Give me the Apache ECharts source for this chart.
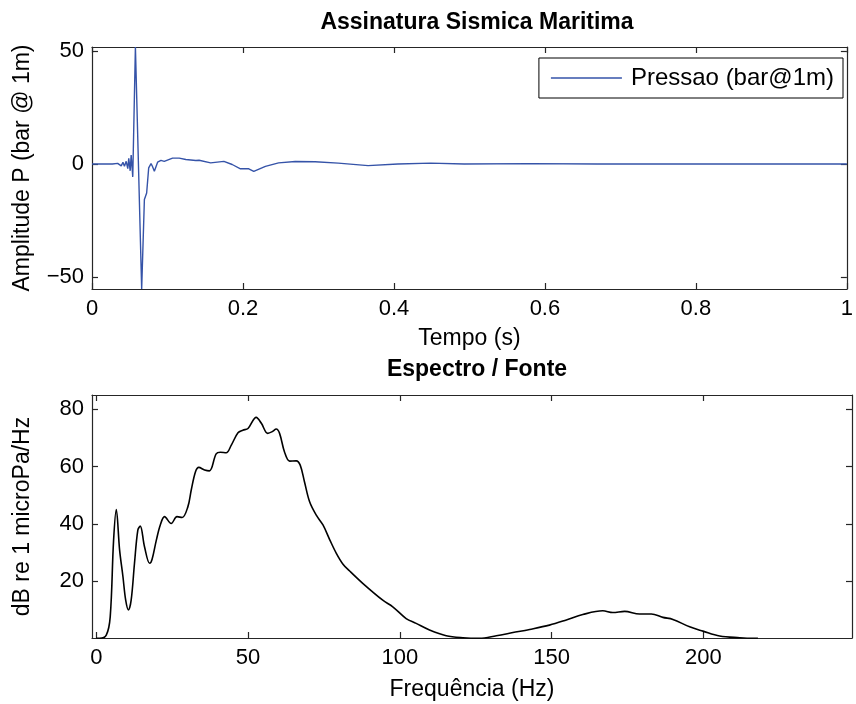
<!DOCTYPE html>
<html>
<head>
<meta charset="utf-8">
<script src="https://cdn.jsdelivr.net/npm/echarts@6/dist/echarts.min.js"></script>
<style>
html,body{margin:0;padding:0;background:#fff;}
#chart{width:856px;height:704px;}
</style>
</head>
<body>
<div id="chart"></div>
<script>
// ---- Data ----
const titleTop = 'Assinatura Sismica Maritima';
const titleBottom = 'Espectro / Fonte';
const seriesTopName = 'Pressao (bar@1m)';

// time (s) and pressure (bar@1m)
const tempo = [0, 0.027, 0.034, 0.0387, 0.041, 0.043, 0.0453, 0.0474, 0.0487, 0.0506, 0.0519, 0.054,
  0.0575, 0.0658, 0.0694, 0.0724, 0.0751, 0.0782, 0.080, 0.0826, 0.0869, 0.0914, 0.0957, 0.1067,
  0.1155, 0.1243, 0.1375, 0.1418, 0.1572, 0.1747, 0.1857, 0.1967, 0.2077, 0.2143, 0.2297, 0.2472,
  0.2692, 0.2955, 0.3262, 0.3657, 0.4052, 0.4486, 0.493, 0.58, 0.669, 1.0];
const pressao = [0, 0, 0.3, -0.8, 0.8, -1.0, 1.2, -2.0, 2.5, -3.0, 4.0, -5.7,
  51.8, -55.3, -15.7, -12.8, -1.7, 0.2, -1.0, -3.2, 0.8, 1.6, 1.2, 2.6,
  2.6, 2.0, 1.6, 1.7, 0.5, 1.2, -0.2, -2.1, -2.1, -3.2, -1.0, 0.5,
  1.1, 1.0, 0.4, -0.7, 0.0, 0.4, 0, 0.2, 0, 0];

// frequency (Hz) and level (dB re 1 microPa/Hz)
const freq = [0, 1.1, 3.3, 4.6, 5.7, 6.6, 7.7, 8.8, 9.7, 10.6, 11.5, 12.6, 13.7, 14.5, 15.9, 17.6,
  18.4, 19.8, 21.1, 22.5, 24.7, 26.6, 28.3, 30.2, 31.3, 32.7, 33.8, 35.7, 37.3, 39.5, 40.9, 42.8,
  44.5, 46.7, 48.3, 50, 52.7, 54.4, 56.5, 58, 59.3, 60.4, 62, 63.7, 65.9, 67.2, 68.6, 70.3, 72.5,
  74.7, 76.9, 79.1, 81.3, 83.5, 87.8, 94.4, 97.7, 102.1, 105.4, 109.8, 115.3, 120.8, 126.3, 131.8,
  137.3, 142.8, 149.3, 154.9, 160.3, 166.9, 170.2, 174.1, 179, 182.9, 186.7, 190, 195.5, 199.9,
  205.4, 212, 216.3, 218];
const nivel = [0, 0, 1.1, 7.5, 34, 45, 30.8, 21.5, 13.3, 9.9, 13.3, 26.2, 37.8, 39.2, 32, 26.2,
  27.6, 34.3, 39.6, 42.5, 40.1, 42.5, 42.2, 46, 51.8, 58.2, 59.7, 58.8, 58.5, 64.4, 65, 64.8,
  67.5, 71.8, 72.7, 73.3, 77.2, 75.1, 71.6, 72.2, 73.1, 71.6, 65.2, 61.9, 62, 60.5, 54.7, 47.7, 43,
  39.6, 34.5, 29.7, 25.9, 23.5, 19.2, 13.3, 11, 6.9, 5.2, 2.9, 0.9, 0.2, 0, 0.9,
  2.0, 3.1, 4.6, 6.4, 8.3, 9.6, 9.0, 9.4, 8.5, 8.5, 7.3, 6.6, 4.0, 2.5,
  0.8, 0.2, 0, 0];

const tempoTicks = [0, 0.2, 0.4, 0.6, 0.8, 1];
const pressaoTicks = [-50, 0, 50];
const freqTicks = [0, 50, 100, 150, 200];
const nivelTicks = [20, 40, 60, 80];

// ---- Chart ----
const FONT = 'Liberation Sans';
const FS = 22;
const NFS = 23;
const AX = '#262626';
const fmt = v => String(v).replace('-', '\u2212');

const pairsTop = tempo.map((t, i) => [t, pressao[i]]);
const pairsBot = freq.map((f, i) => [f, nivel[i]]);

function mainX(grid, min, max, ticks, name, gap) {
  return {
    type: 'value', gridIndex: grid, position: 'bottom', min, max,
    name, nameLocation: 'middle', nameGap: gap,
    nameTextStyle: { fontFamily: FONT, fontSize: NFS, color: '#000' },
    axisLine: { show: true, onZero: false, lineStyle: { color: AX, width: 1.2 } },
    axisTick: { show: true, inside: true, length: 6, customValues: ticks, lineStyle: { color: AX, width: 1.2 } },
    axisLabel: { show: true, customValues: ticks, margin: 9, fontFamily: FONT, fontSize: FS, color: '#000', formatter: fmt },
    splitLine: { show: false }
  };
}
function mirrorX(grid, min, max, ticks) {
  return {
    type: 'value', gridIndex: grid, position: 'top', min, max,
    axisLine: { show: true, onZero: false, lineStyle: { color: AX, width: 1.2 } },
    axisTick: { show: true, inside: true, length: 6, customValues: ticks, lineStyle: { color: AX, width: 1.2 } },
    axisLabel: { show: false, customValues: ticks },
    splitLine: { show: false }
  };
}
function mainY(grid, min, max, ticks, name, gap) {
  return {
    type: 'value', gridIndex: grid, position: 'left', min, max,
    name, nameLocation: 'middle', nameGap: gap, nameRotate: 90,
    nameTextStyle: { fontFamily: FONT, fontSize: NFS, color: '#000' },
    axisLine: { show: true, onZero: false, lineStyle: { color: AX, width: 1.2 } },
    axisTick: { show: true, inside: true, length: 6, customValues: ticks, lineStyle: { color: AX, width: 1.2 } },
    axisLabel: { show: true, customValues: ticks, margin: 8, fontFamily: FONT, fontSize: FS, color: '#000', formatter: fmt },
    splitLine: { show: false }
  };
}
function mirrorY(grid, min, max, ticks) {
  return {
    type: 'value', gridIndex: grid, position: 'right', min, max,
    axisLine: { show: true, onZero: false, lineStyle: { color: AX, width: 1.2 } },
    axisTick: { show: true, inside: true, length: 6, customValues: ticks, lineStyle: { color: AX, width: 1.2 } },
    axisLabel: { show: false, customValues: ticks },
    splitLine: { show: false }
  };
}

const chart = echarts.init(document.getElementById('chart'), null, { renderer: 'canvas' });
chart.setOption({
  animation: false,
  backgroundColor: '#fff',
  title: [
    { text: titleTop, left: 472, top: 6, textAlign: 'center',
      textStyle: { fontFamily: FONT, fontSize: 23, fontWeight: 'bold', color: '#000' } },
    { text: titleBottom, left: 472, top: 353, textAlign: 'center',
      textStyle: { fontFamily: FONT, fontSize: 23, fontWeight: 'bold', color: '#000' } }
  ],
  legend: {
    data: [{ name: seriesTopName, icon: 'rect' }], right: 13, top: 58,
    orient: 'horizontal',
    backgroundColor: '#fff', borderColor: '#000', borderWidth: 1,
    padding: [8, 9, 8, 12], itemWidth: 71, itemHeight: 1.5, itemGap: 10,
    itemStyle: { color: '#3553a8', borderWidth: 0 },
    textStyle: { fontFamily: FONT, fontSize: 24, color: '#000', padding: [0, 0, 0, 4] }
  },
  grid: [
    { left: 92, top: 47, width: 760, height: 242 },
    { left: 92, top: 395, width: 760, height: 243 }
  ],
  xAxis: [
    mainX(0, 0, 1, tempoTicks, 'Tempo (s)', 38),
    mirrorX(0, 0, 1, tempoTicks),
    mainX(1, -1.4, 249, freqTicks, 'Frequ\u00eancia (Hz)', 40),
    mirrorX(1, -1.4, 249, freqTicks)
  ],
  yAxis: [
    mainY(0, -55.3, 51.8, pressaoTicks, 'Amplitude P (bar @ 1m)', 58),
    mirrorY(0, -55.3, 51.8, pressaoTicks),
    mainY(1, 0.1, 85, nivelTicks, 'dB re 1 microPa/Hz', 58),
    mirrorY(1, 0.1, 85, nivelTicks)
  ],
  series: [
    { name: seriesTopName, type: 'line', xAxisIndex: 0, yAxisIndex: 0, data: pairsTop,
      symbol: 'none', smooth: false, lineStyle: { color: '#3553a8', width: 1.4 }, itemStyle: { color: '#3553a8' } },
    { name: 'espectro', type: 'line', xAxisIndex: 2, yAxisIndex: 2, data: pairsBot,
      symbol: 'none', smooth: 0.35, lineStyle: { color: '#000', width: 1.6 }, itemStyle: { color: '#000' } }
  ]
});
</script>
</body>
</html>
